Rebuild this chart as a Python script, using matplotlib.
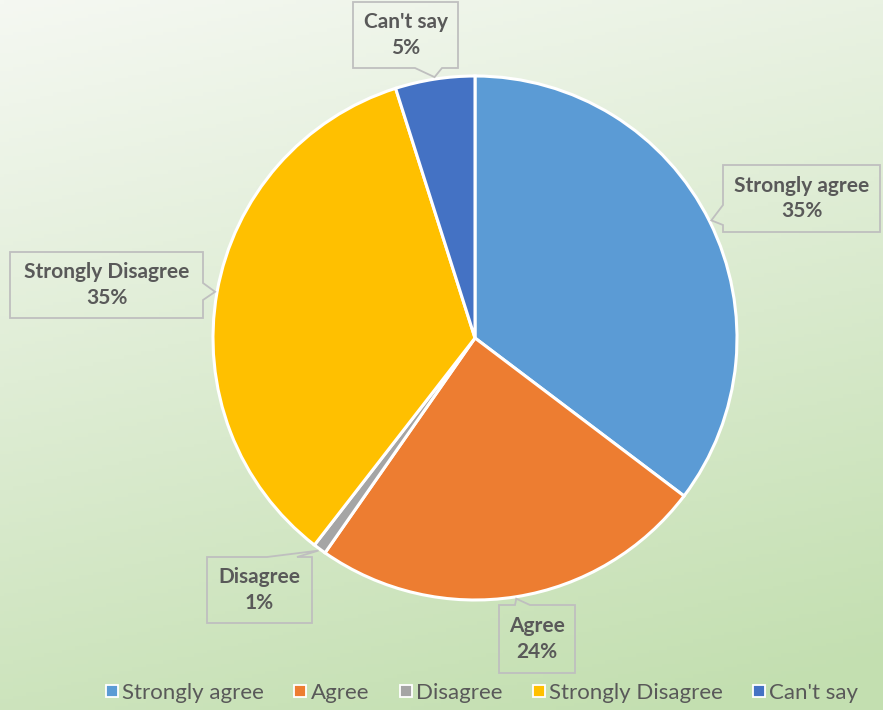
import numpy as np
import matplotlib.pyplot as plt
from matplotlib.patches import Polygon
from matplotlib.lines import Line2D

plt.rcParams['font.family'] = ['Lato', 'DejaVu Sans']

# data
categories = ['Strongly agree', 'Agree', 'Disagree', 'Strongly Disagree', "Can't say"]
shares = [35.3, 24.4, 0.8, 34.6, 4.9]
pct_labels = ['35%', '24%', '1%', '35%', '5%']
colors = ['#5B9BD5', '#ED7D31', '#A5A5A5', '#FFC000', '#4472C4']

W, H = 883, 710
fig = plt.figure(figsize=(W / 100, H / 100), dpi=100)
ax = fig.add_axes([0, 0, 1, 1])

# gradient background: pale top-left, green bottom
yy, xx = np.mgrid[0:1:200j, 0:1:200j]   # row 0 = top
t = np.clip((0.85 * yy + 0.25 * xx) / 1.05, 0, 1)
top = np.array([245, 248, 242]) / 255
bot = np.array([195, 223, 176]) / 255
img = top + (bot - top) * t[..., None]
ax.imshow(img, extent=[0, W, 0, H], origin='upper', aspect='auto', zorder=0)

center = (475, 372)
radius = 262
wedges, _ = ax.pie(shares, colors=colors, startangle=90, counterclock=False,
                   center=center, radius=radius,
                   wedgeprops=dict(edgecolor='white', linewidth=2.2), frame=True)
ax.set_xlim(0, W)
ax.set_ylim(0, H)
ax.set_aspect('equal')
ax.axis('off')

# callout boxes: x0, x1, y0, y1, side of pointer, base span
boxes = [
    (723, 880, 478, 545, 'left', (485, 505)),
    (499, 575, 37, 105, 'top', (515, 530)),
    (207, 312, 87, 153, 'top', (267, 297)),
    (10, 203, 392, 458, 'right', (410, 427)),
    (353, 458, 642, 708, 'bottom', (415, 442)),
]

for w, cat, pl, (x0, x1, y0, y1, side, (b1, b2)) in zip(wedges, categories, pct_labels, boxes):
    mid = np.deg2rad((w.theta1 + w.theta2) / 2)
    tip = (center[0] + (radius + 2) * np.cos(mid), center[1] + (radius + 2) * np.sin(mid))
    if side == 'bottom':
        pts = [(x0, y1), (x1, y1), (x1, y0), (b2, y0), tip, (b1, y0), (x0, y0)]
    elif side == 'top':
        pts = [(x0, y0), (x1, y0), (x1, y1), (b2, y1), tip, (b1, y1), (x0, y1)]
    elif side == 'left':
        pts = [(x1, y1), (x1, y0), (x0, y0), (x0, b1), tip, (x0, b2), (x0, y1)]
    else:
        pts = [(x0, y1), (x0, y0), (x1, y0), (x1, b1), tip, (x1, b2), (x1, y1)]
    ax.add_patch(Polygon(pts, closed=True, facecolor='none', edgecolor='#BFBFBF',
                         linewidth=1.3, zorder=3))
    ax.text((x0 + x1) / 2, (y0 + y1) / 2, cat + '\n' + pl, ha='center', va='center',
            fontsize=15, fontweight='bold', color='#595959', linespacing=1.35, zorder=4)

handles = [Line2D([], [], marker='s', linestyle='none', markersize=9,
                  markerfacecolor=c, markeredgecolor='white', markeredgewidth=1.3)
           for c in colors]
fig.legend(handles, categories, loc='lower center', bbox_to_anchor=(0.545, -0.018),
           ncol=5, frameon=False, fontsize=16, handlelength=0.7, handletextpad=0.1,
           columnspacing=1.3, labelcolor='#595959')

fig.savefig('out.png', dpi=100)
